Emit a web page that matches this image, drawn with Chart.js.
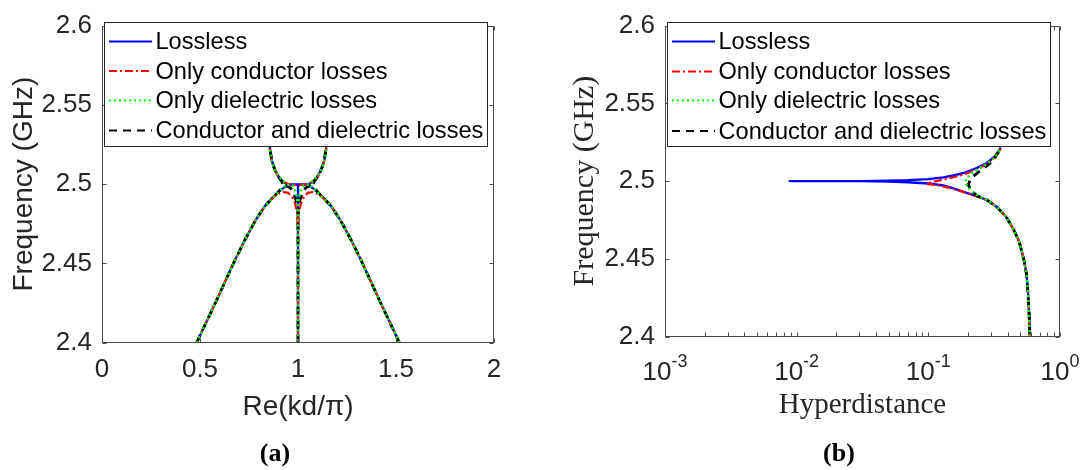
<!DOCTYPE html>
<html><head><meta charset="utf-8">
<script src="https://cdn.jsdelivr.net/npm/chart.js@4.4.1/dist/chart.umd.min.js"></script>
<style>
html,body{margin:0;padding:0;background:#fff;width:1086px;height:470px;overflow:hidden;}
#wrapA{position:absolute;left:0;top:0;width:543px;height:470px;}
#wrapB{position:absolute;left:543px;top:0;width:543px;height:470px;}
.sub{position:absolute;top:438px;font:bold 26px 'Liberation Serif';color:#000;transform:translateX(-50%);white-space:nowrap;}
</style></head><body>
<div id="wrapA"><canvas id="ca" width="543" height="470"></canvas></div>
<div id="wrapB"><canvas id="cb" width="543" height="470"></canvas></div>
<div class="sub" style="left:275px">(a)</div>
<div class="sub" style="left:839px">(b)</div>
<script>
// ---------- shared ----------
const seriesNames = ['Lossless', 'Only conductor losses', 'Only dielectric losses', 'Conductor and dielectric losses'];
const seriesColors = ['#0000ff', '#ff0000', '#00ff00', '#000000'];
const seriesWidths = [2.4, 2.2, 2.5, 2.8];
const seriesDash = [[], [8, 3, 2, 3], [2, 3], [8, 6]];
const seriesOrder = [4, 3, 1, 2];

const freqTicks = [2.4, 2.45, 2.5, 2.55, 2.6];
const freqTickLabels = ['2.4', '2.45', '2.5', '2.55', '2.6'];

// ---------- (a) Re(kd/pi) vs frequency ----------
const aXTicks = [0, 0.5, 1, 1.5, 2];
const aXTickLabels = ['0', '0.5', '1', '1.5', '2'];

const aLosslessX = [0.483,0.53,0.58,0.63,0.68,0.73,0.78,0.83,0.87,0.90,0.925,0.945,0.96,1.0,1.04,1.055,1.075,1.10,1.13,1.17,1.22,1.27,1.32,1.37,1.42,1.47,1.517, null,
  1.0,1.0, null,
  0.843,0.85,0.857,0.865,0.88,0.90,0.92,0.94,0.96,1.0,1.04,1.06,1.08,1.10,1.12,1.135,1.143,1.15,1.157];
const aLosslessF = [2.400,2.4125,2.4255,2.4390,2.4525,2.4650,2.4765,2.4860,2.4915,2.4950,2.4975,2.4992,2.4998,2.4998,2.4998,2.4992,2.4975,2.4950,2.4915,2.4860,2.4765,2.4650,2.4525,2.4390,2.4255,2.4125,2.400, null,
  2.4998,2.400, null,
  2.600,2.550,2.5216,2.5155,2.5095,2.5050,2.5020,2.5003,2.4998,2.4998,2.4998,2.5003,2.5020,2.5050,2.5095,2.5155,2.5216,2.550,2.600];

const aCondX = [0.483,0.53,0.58,0.63,0.68,0.73,0.78,0.83,0.87,0.90,0.925,0.95,0.97,0.985,0.995,1.0,1.0, null,
  1.517,1.47,1.42,1.37,1.32,1.27,1.22,1.17,1.13,1.10,1.075,1.05,1.03,1.015,1.005,1.0, null,
  0.843,0.85,0.857,0.865,0.88,0.90,0.925,0.95,0.975,1.0,1.025,1.05,1.075,1.10,1.12,1.135,1.143,1.15,1.157];
const aCondF = [2.400,2.4125,2.4255,2.4390,2.4525,2.4650,2.4765,2.4860,2.4910,2.4940,2.4950,2.4945,2.4920,2.4880,2.4820,2.4700,2.400, null,
  2.400,2.4125,2.4255,2.4390,2.4525,2.4650,2.4765,2.4860,2.4910,2.4940,2.4950,2.4945,2.4920,2.4880,2.4820,2.4700, null,
  2.600,2.550,2.5216,2.5150,2.5090,2.5045,2.5015,2.5002,2.4996,2.4993,2.4996,2.5002,2.5015,2.5045,2.5090,2.5150,2.5216,2.550,2.600];

const aDielX = [0.483,0.53,0.58,0.63,0.68,0.73,0.78,0.83,0.87,0.90,0.92,0.932,0.935,0.932,0.92,0.90,0.88,0.865,0.857,0.85,0.843, null,
  1.517,1.47,1.42,1.37,1.32,1.27,1.22,1.17,1.13,1.10,1.08,1.068,1.065,1.068,1.08,1.10,1.12,1.135,1.143,1.15,1.157, null,
  0.945,0.972,0.985,0.994,0.999,1.0,1.0, null,
  1.055,1.028,1.015,1.006,1.001,1.0];
const aDielF = [2.400,2.4125,2.4255,2.4390,2.4525,2.4650,2.4765,2.4860,2.4912,2.4948,2.4970,2.4985,2.5000,2.5012,2.5027,2.5050,2.5093,2.5152,2.5216,2.550,2.600, null,
  2.400,2.4125,2.4255,2.4390,2.4525,2.4650,2.4765,2.4860,2.4912,2.4948,2.4970,2.4985,2.5000,2.5012,2.5027,2.5050,2.5093,2.5152,2.5216,2.550,2.600, null,
  2.4998,2.4992,2.4960,2.4920,2.4870,2.4820,2.400, null,
  2.4998,2.4992,2.4960,2.4920,2.4870,2.4820];

const aBothX = [0.483,0.53,0.58,0.63,0.68,0.73,0.78,0.83,0.87,0.895,0.912,0.920,0.922,0.918,0.905,0.885,0.868,0.858,0.85,0.843, null,
  1.517,1.47,1.42,1.37,1.32,1.27,1.22,1.17,1.13,1.105,1.088,1.080,1.078,1.082,1.095,1.115,1.132,1.142,1.15,1.157, null,
  0.935,0.962,0.978,0.99,0.997,1.0,1.0, null,
  1.065,1.038,1.022,1.01,1.003,1.0];
const aBothF = [2.400,2.4125,2.4255,2.4390,2.4525,2.4650,2.4765,2.4860,2.4912,2.4945,2.4968,2.4985,2.5000,2.5015,2.5038,2.5080,2.5140,2.5216,2.550,2.600, null,
  2.400,2.4125,2.4255,2.4390,2.4525,2.4650,2.4765,2.4860,2.4912,2.4945,2.4968,2.4985,2.5000,2.5015,2.5038,2.5080,2.5140,2.5216,2.550,2.600, null,
  2.4995,2.4975,2.4940,2.4900,2.4860,2.4820,2.400, null,
  2.4995,2.4975,2.4940,2.4900,2.4860,2.4820];

// ---------- (b) Hyperdistance vs frequency ----------
const bXTickVals = [0.001, 0.01, 0.1, 1];
const bXTickBase = ['10', '10', '10', '10'];
const bXTickExp = ['-3', '-2', '-1', '0'];
const bMinorMult = [2, 3, 4, 5, 6, 7, 8, 9];
const bMinorDecades = [0.001, 0.01, 0.1];

const bLosslessX = [0.375,0.365,0.35,0.32,0.277,0.23,0.19,0.155,0.13,0.10,0.07,0.05,0.03,0.0087,
  0.03,0.05,0.07,0.10,0.13,0.155,0.19,0.23,0.277,0.33,0.39,0.441,0.49,0.53,0.557,0.572,0.582,0.588];
const bLosslessF = [2.600,2.535,2.5205,2.5158,2.5115,2.5082,2.5055,2.5036,2.5024,2.5013,2.5006,2.5003,2.5000,2.5000,
  2.5000,2.4997,2.4993,2.4985,2.4972,2.4953,2.4928,2.4905,2.4880,2.4835,2.4770,2.4695,2.4610,2.4500,2.4400,2.428,2.415,2.400];

const bCondX = [0.375,0.365,0.35,0.32,0.277,0.23,0.19,0.155,0.12,0.105,0.097,
  0.12,0.155,0.19,0.23,0.277,0.33,0.39,0.441,0.49,0.53,0.557,0.572,0.582,0.588];
const bCondF = [2.600,2.535,2.5200,2.5152,2.5108,2.5072,2.5045,2.5025,2.5003,2.4993,2.4982,
  2.4972,2.4950,2.4927,2.4904,2.4880,2.4835,2.4770,2.4695,2.4610,2.4500,2.4400,2.428,2.415,2.400];

const bDielX = [0.375,0.365,0.35,0.32,0.277,0.23,0.206,0.195,0.19,
  0.20,0.215,0.232,0.277,0.33,0.39,0.441,0.49,0.53,0.557,0.572,0.582,0.588];
const bDielF = [2.600,2.535,2.5200,2.5152,2.5108,2.5068,2.5040,2.5015,2.4991,
  2.4960,2.4935,2.4912,2.4880,2.4835,2.4770,2.4695,2.4610,2.4500,2.4400,2.428,2.415,2.400];

const bBothX = [0.375,0.365,0.35,0.32,0.29,0.26,0.24,0.219,0.207,0.201,
  0.208,0.219,0.235,0.277,0.33,0.39,0.441,0.49,0.53,0.557,0.572,0.582,0.588];
const bBothF = [2.600,2.535,2.5200,2.5150,2.5110,2.5080,2.5058,2.5030,2.5005,2.4975,
  2.4950,2.4928,2.4905,2.4880,2.4835,2.4770,2.4695,2.4610,2.4500,2.4400,2.428,2.415,2.400];

// ---------- helpers ----------
function toPts(xs, fs) {
  return xs.map((x, i) => (x === null || fs[i] === null) ? {x: null, y: null} : {x: x, y: fs[i]});
}
function ds(i, xs, fs) {
  return {
    label: seriesNames[i], data: toPts(xs, fs),
    borderColor: seriesColors[i], backgroundColor: seriesColors[i],
    borderWidth: seriesWidths[i], borderDash: seriesDash[i],
    pointRadius: 0, pointHoverRadius: 0, showLine: true, fill: false,
    tension: 0, spanGaps: false, order: seriesOrder[i]
  };
}
const AXIS = '#262626';
const FRAME = '#4a4a4a';
const TICK_FONT = 26;
const LEGEND_FONT = 23.6;

const framePlugin = {
  id: 'frame',
  afterDatasetsDraw(chart, args, opts) {
    const ctx = chart.ctx, ca = chart.chartArea;
    const xs = chart.scales.x, ys = chart.scales.y;
    const L = Math.round(ca.left) + 0.5, R = Math.round(ca.right) - 0.5;
    const T = Math.round(ca.top) + 0.5, B = Math.round(ca.bottom) - 0.5;
    ctx.save();
    ctx.setLineDash([]);
    ctx.strokeStyle = FRAME; ctx.lineWidth = 1;
    const tl = 4;
    ctx.beginPath();
    const xTicks = (opts.xMajor || []).concat(opts.xMinor || []);
    xTicks.forEach(v => {
      const p = Math.round(xs.getPixelForValue(v)) + 0.5;
      ctx.moveTo(p, B); ctx.lineTo(p, B - tl);
      ctx.moveTo(p, T); ctx.lineTo(p, T + tl);
    });
    (opts.yMajor || []).forEach(v => {
      const p = Math.round(ys.getPixelForValue(v)) + 0.5;
      ctx.moveTo(L, p); ctx.lineTo(L + tl, p);
      ctx.moveTo(R, p); ctx.lineTo(R - tl, p);
    });
    ctx.stroke();
    ctx.strokeRect(L, T, R - L, B - T);

    // superscript log labels
    if (opts.logLabels) {
      ctx.fillStyle = AXIS;
      ctx.textBaseline = 'alphabetic';
      opts.logLabels.vals.forEach((v, i) => {
        const p = xs.getPixelForValue(v);
        ctx.font = TICK_FONT + 'px "Liberation Sans"';
        const wb = ctx.measureText(opts.logLabels.base[i]).width;
        ctx.font = '18px "Liberation Sans"';
        const we = ctx.measureText(opts.logLabels.exp[i]).width;
        const x0 = p - (wb + we) / 2;
        ctx.font = TICK_FONT + 'px "Liberation Sans"';
        ctx.textAlign = 'left';
        ctx.fillText(opts.logLabels.base[i], x0, ca.bottom + 43.4);
        ctx.font = '18px "Liberation Sans"';
        ctx.fillText(opts.logLabels.exp[i], x0 + wb, ca.bottom + 30.4);
      });
    }

    // legend box (drawn over the data, like the original)
    const lg = opts.legend;
    const bx = Math.round(ca.left + 2) + 0.5, by = 22.5, bw = 383, bh = 124;
    ctx.fillStyle = '#ffffff';
    ctx.fillRect(bx, by, bw, bh);
    ctx.strokeStyle = AXIS; ctx.lineWidth = 1;
    ctx.strokeRect(bx, by, bw, bh);
    const dsets = chart.data.datasets;
    lg.rows.forEach((ry, i) => {
      const d = dsets[i];
      ctx.save();
      ctx.strokeStyle = d.borderColor; ctx.lineWidth = Math.min(d.borderWidth, 2.2);
      ctx.setLineDash(d.borderDash || []);
      ctx.beginPath();
      ctx.moveTo(ca.left + 7, ry); ctx.lineTo(ca.left + 50, ry);
      ctx.stroke();
      ctx.restore();
      ctx.fillStyle = '#000';
      ctx.font = LEGEND_FONT + 'px "Liberation Sans"';
      ctx.textAlign = 'left'; ctx.textBaseline = 'middle';
      ctx.fillText(d.label, ca.left + 53.5, ry + 1);
    });
    ctx.restore();
  }
};

function yAxis(width, titleFont, titlePad) {
  return {
    type: 'linear', min: 2.4, max: 2.6, position: 'left',
    afterBuildTicks: s => { s.ticks = freqTicks.map(v => ({value: v})); },
    afterFit: s => { s.width = width; },
    grid: {display: false, drawTicks: false}, border: {display: false},
    ticks: {font: {family: 'Liberation Sans', size: TICK_FONT}, color: AXIS, padding: 10,
      callback: (v, i) => freqTickLabels[i]},
    title: {display: true, text: 'Frequency (GHz)', font: titleFont, color: AXIS,
      padding: {top: titlePad, bottom: 0}}
  };
}

// ---------- chart (a) ----------
new Chart(document.getElementById('ca'), {
  type: 'scatter',
  data: {datasets: [
    ds(0, aLosslessX, aLosslessF),
    ds(1, aCondX, aCondF),
    ds(2, aDielX, aDielF),
    ds(3, aBothX, aBothF)
  ]},
  options: {
    responsive: false, animation: false, events: [],
    layout: {padding: {left: 0, right: 49, top: 20.7, bottom: 0}},
    plugins: {legend: {display: false}, tooltip: {enabled: false},
      frame: {xMajor: aXTicks, yMajor: freqTicks, legend: {rows: [41.5, 71, 100.5, 130.5]}}},
    scales: {
      x: {
        type: 'linear', min: 0, max: 2, position: 'bottom',
        afterBuildTicks: s => { s.ticks = aXTicks.map(v => ({value: v})); },
        afterFit: s => { s.height = 127.3; },
        grid: {display: false, drawTicks: false}, border: {display: false},
        ticks: {font: {family: 'Liberation Sans', size: TICK_FONT}, color: AXIS, padding: 12, maxRotation: 0, autoSkip: false,
          callback: (v, i) => aXTickLabels[i]},
        title: {display: true, text: 'Re(kd/π)', font: {family: 'Liberation Sans', size: 28}, color: AXIS,
          padding: {top: 0, bottom: 46}}
      },
      y: yAxis(102, {family: 'Liberation Sans', size: 28}, 7)
    }
  },
  plugins: [framePlugin]
});

// ---------- chart (b) ----------
const bMinor = [];
bMinorDecades.forEach(d => bMinorMult.forEach(m => bMinor.push(d * m)));
new Chart(document.getElementById('cb'), {
  type: 'scatter',
  data: {datasets: [
    ds(0, bLosslessX, bLosslessF),
    ds(1, bCondX, bCondF),
    ds(2, bDielX, bDielF),
    ds(3, bBothX, bBothF)
  ]},
  options: {
    responsive: false, animation: false, events: [],
    layout: {padding: {left: 0, right: 26, top: 20.7, bottom: 0}},
    plugins: {legend: {display: false}, tooltip: {enabled: false},
      frame: {xMajor: bXTickVals, xMinor: bMinor, yMajor: freqTicks,
        logLabels: {vals: bXTickVals, base: bXTickBase, exp: bXTickExp},
        legend: {rows: [41.5, 71.5, 100.5, 131]}}},
    scales: {
      x: {
        type: 'logarithmic', min: 0.001, max: 1, position: 'bottom',
        afterFit: s => { s.height = 133.4; },
        grid: {display: false, drawTicks: false}, border: {display: false},
        ticks: {display: false},
        title: {display: true, text: 'Hyperdistance', font: {family: 'Liberation Serif', size: 29}, color: AXIS,
          padding: {top: 0, bottom: 47}}
      },
      y: yAxis(122, {family: 'Liberation Serif', size: 30}, 24)
    }
  },
  plugins: [framePlugin]
});
</script>
</body></html>
